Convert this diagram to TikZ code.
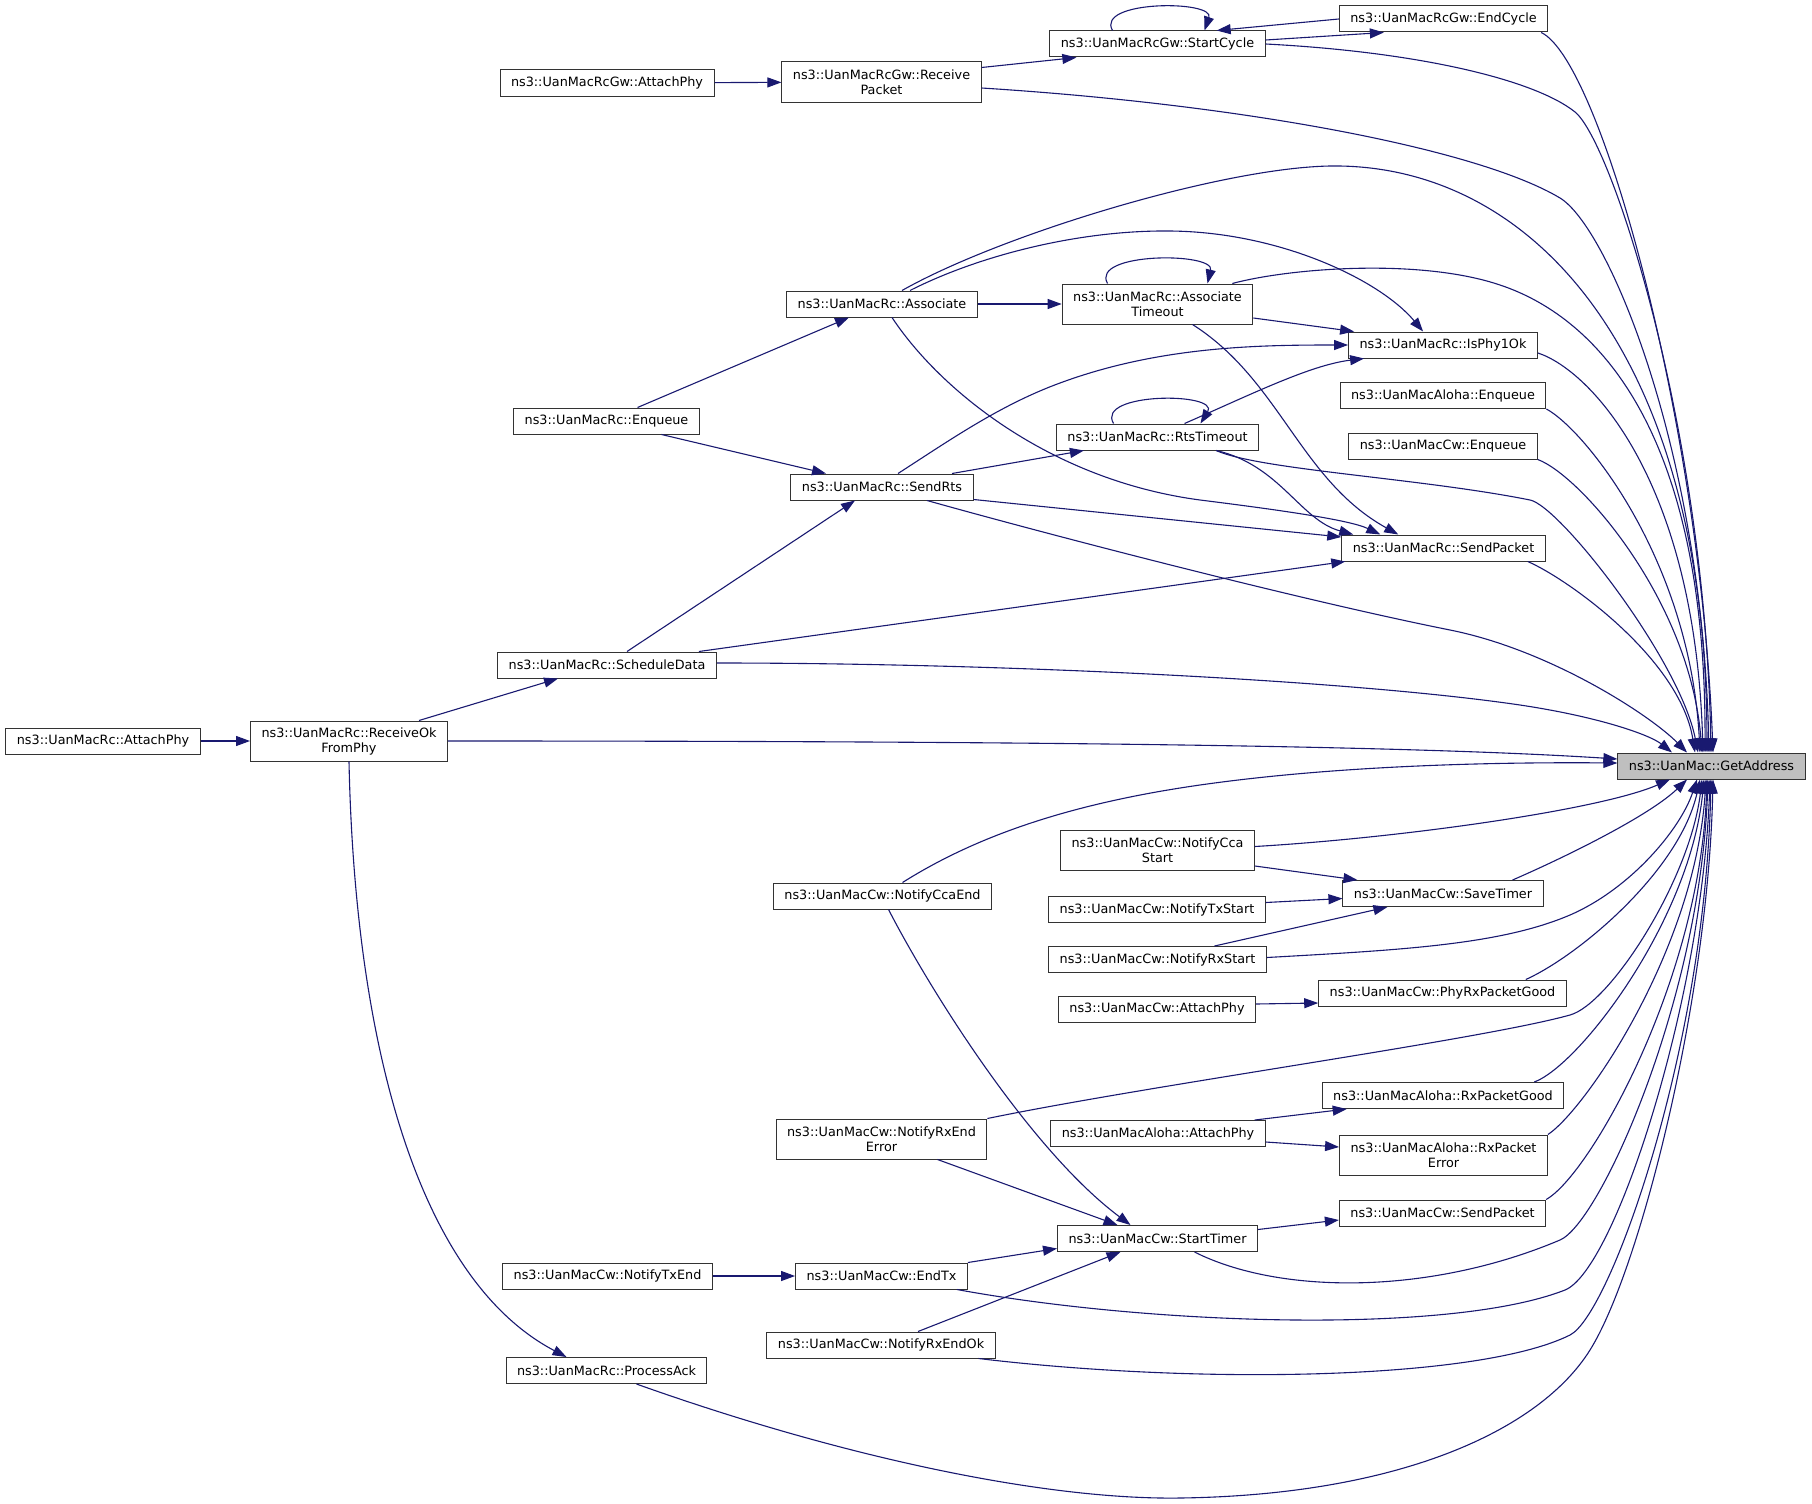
\documentclass[tikz,border=0pt]{standalone}
\usepackage{fontspec}
\setmainfont{DejaVu Sans}
\usetikzlibrary{arrows.meta,calc}
\definecolor{edgeblue}{HTML}{191970}
\definecolor{hilite}{HTML}{BFBFBF}
\begin{document}
\begin{tikzpicture}[x=1pt,y=-1pt,font=\fontsize{12.8}{15}\selectfont,
  fn/.style={draw=black!80,line width=1pt,fill=white,inner xsep=11pt,inner ysep=2pt,minimum height=26pt},
  fnn/.style={fn,align=center,minimum height=40pt},
  call/.style={draw=edgeblue,line width=1.1pt,-{Triangle[length=14pt,width=10pt]}}]
\useasboundingbox (0,0) rectangle (1812,1504);
% functions
\node[fn,fill=hilite] (ga) at (1711.5,766) {ns3::UanMac::GetAddress};
\node[fn] (endcycle) at (1443.5,19) {ns3::UanMacRcGw::EndCycle};
\node[fn] (startcycle) at (1157.5,44) {ns3::UanMacRcGw::StartCycle};
\node[fnn] (recvpkt) at (881.5,82) {ns3::UanMacRcGw::Receive\\Packet};
\node[fn] (gwattach) at (607,83) {ns3::UanMacRcGw::AttachPhy};
\node[fn] (associate) at (882,304) {ns3::UanMacRc::Associate};
\node[fnn] (assoctimeout) at (1157.5,304) {ns3::UanMacRc::Associate\\Timeout};
\node[fn] (isphy) at (1443,345) {ns3::UanMacRc::IsPhy1Ok};
\node[fn] (alohaenq) at (1443,395.5) {ns3::UanMacAloha::Enqueue};
\node[fn] (rtstimeout) at (1157.5,437) {ns3::UanMacRc::RtsTimeout};
\node[fn] (cwenq) at (1443,446) {ns3::UanMacCw::Enqueue};
\node[fn] (rcenq) at (606.5,421) {ns3::UanMacRc::Enqueue};
\node[fn] (sendrts) at (882,487) {ns3::UanMacRc::SendRts};
\node[fn] (rcsendpkt) at (1443.5,548) {ns3::UanMacRc::SendPacket};
\node[fn] (schedule) at (607,665) {ns3::UanMacRc::ScheduleData};
\node[fn] (rcattach) at (103,741) {ns3::UanMacRc::AttachPhy};
\node[fnn] (recvok) at (349,741) {ns3::UanMacRc::ReceiveOk\\FromPhy};
\node[fn] (ccaend) at (882.5,896) {ns3::UanMacCw::NotifyCcaEnd};
\node[fnn] (ccastart) at (1157.5,850.5) {ns3::UanMacCw::NotifyCca\\Start};
\node[fn] (savetimer) at (1443,893.5) {ns3::UanMacCw::SaveTimer};
\node[fn] (txstart) at (1157,909.5) {ns3::UanMacCw::NotifyTxStart};
\node[fn] (rxstart) at (1157.5,959.5) {ns3::UanMacCw::NotifyRxStart};
\node[fn] (phyrxgood) at (1442.5,993) {ns3::UanMacCw::PhyRxPacketGood};
\node[fn] (cwattach) at (1157,1009) {ns3::UanMacCw::AttachPhy};
\node[fn] (alohagood) at (1443,1095.5) {ns3::UanMacAloha::RxPacketGood};
\node[fn] (alohaattach) at (1158,1133.5) {ns3::UanMacAloha::AttachPhy};
\node[fnn] (alohaerr) at (1443.5,1155) {ns3::UanMacAloha::RxPacket\\Error};
\node[fnn] (rxenderr) at (881.5,1139) {ns3::UanMacCw::NotifyRxEnd\\Error};
\node[fn] (cwsendpkt) at (1442.5,1213) {ns3::UanMacCw::SendPacket};
\node[fn] (starttimer) at (1157.5,1238.5) {ns3::UanMacCw::StartTimer};
\node[fn] (endtx) at (881.5,1276) {ns3::UanMacCw::EndTx};
\node[fn] (txend) at (607.5,1276) {ns3::UanMacCw::NotifyTxEnd};
\node[fn] (rxendok) at (881,1345) {ns3::UanMacCw::NotifyRxEndOk};
\node[fn] (processack) at (606.5,1370.5) {ns3::UanMacRc::ProcessAck};
% calls into GetAddress, from above
\draw[call] ($(endcycle.south east)+(-7,0)$) .. controls (1600,60) and (1700,420) .. ($(ga.north)+(1.5,0)$);
\draw[call] (startcycle.east) .. controls (1420,52) and (1535,80) .. (1575,112) .. controls (1612,142) and (1705,430) .. ($(ga.north)+(-0.5,0)$);
\draw[call] ($(recvpkt.east)+(0,6)$) .. controls (1250,105) and (1480,150) .. (1560,198) .. controls (1608,227) and (1702,450) .. ($(ga.north)+(-2.5,0)$);
\draw[call] ($(associate.north)+(20,0)$) .. controls (1000,235) and (1220,168) .. (1330,166) .. controls (1530,163) and (1706,350) .. ($(ga.north)+(-4.5,0)$);
\draw[call] ($(assoctimeout.north east)+(-21,0)$) .. controls (1290,268) and (1420,258) .. (1500,285) .. controls (1590,315) and (1706,420) .. ($(ga.north)+(-6.5,0)$);
\draw[call] ($(isphy.east)+(0,8)$) .. controls (1590,370) and (1695,480) .. ($(ga.north)+(-8.5,0)$);
\draw[call] (alohaenq.south east) .. controls (1585,430) and (1690,560) .. ($(ga.north)+(-11.5,0)$);
\draw[call] (cwenq.south east) .. controls (1580,475) and (1690,600) .. ($(ga.north)+(-9.5,0)$);
\draw[call] ($(rtstimeout.south east)+(-43,0)$) .. controls (1260,470) and (1420,478) .. (1530,500) .. controls (1560,506) and (1680,660) .. ($(ga.north)+(-13.5,0)$);
\draw[call] ($(rcsendpkt.south east)+(-18,0)$) .. controls (1570,580) and (1680,660) .. ($(ga.north)+(-16.5,0)$);
\draw[call] ($(sendrts.south)+(45,0)$) .. controls (1050,535) and (1300,600) .. (1450,630) .. controls (1550,650) and (1650,715) .. ($(ga.north)+(-24.5,0)$);
\draw[call] ($(schedule.east)+(0,-2)$) .. controls (1000,663) and (1350,680) .. (1520,705) .. controls (1600,717) and (1650,735) .. ($(ga.north)+(-39.5,0)$);
% from the left
\draw[call] (recvok.east) .. controls (1000,741) and (1400,745) .. ($(ga.west)+(0,-7)$);
\draw[call] ($(ccaend.north)+(20,0)$) .. controls (970,840) and (1060,805) .. (1200,785) .. controls (1340,765) and (1500,762) .. ($(ga.west)+(0,-3)$);
% from below
\draw[call] ($(ccastart.east)+(0,-4)$) .. controls (1400,838) and (1600,810) .. ($(ga.south)+(-41.5,0)$);
\draw[call] ($(savetimer.north east)+(-31,0)$) .. controls (1570,855) and (1650,815) .. ($(ga.south)+(-24.5,0)$);
\draw[call] ($(rxstart.east)+(0,-2)$) .. controls (1400,950) and (1500,945) .. (1570,915) .. controls (1630,889) and (1680,830) .. ($(ga.south)+(-14.5,0)$);
\draw[call] ($(phyrxgood.north east)+(-41,0)$) .. controls (1580,955) and (1680,870) .. ($(ga.south)+(-11.5,0)$);
\draw[call] (rxenderr.north east) .. controls (1150,1085) and (1480,1040) .. (1570,1015) .. controls (1610,1004) and (1690,880) .. ($(ga.south)+(-9.5,0)$);
\draw[call] ($(alohagood.north east)+(-30,0)$) .. controls (1580,1065) and (1690,920) .. ($(ga.south)+(-7.5,0)$);
\draw[call] (alohaerr.north east) .. controls (1585,1110) and (1695,950) .. ($(ga.south)+(-5.5,0)$);
\draw[call] (cwsendpkt.north east) .. controls (1590,1175) and (1700,980) .. ($(ga.south)+(-4.5,0)$);
\draw[call] ($(starttimer.south)+(37,0)$) .. controls (1280,1295) and (1430,1295) .. (1560,1240) .. controls (1600,1223) and (1700,1000) .. ($(ga.south)+(-3.5,0)$);
\draw[call] ($(endtx.south east)+(-11,0)$) .. controls (1150,1325) and (1450,1335) .. (1565,1290) .. controls (1615,1270) and (1702,1000) .. ($(ga.south)+(-1.5,0)$);
\draw[call] ($(rxendok.south east)+(-17,0)$) .. controls (1200,1385) and (1480,1380) .. (1570,1335) .. controls (1610,1315) and (1705,1050) .. ($(ga.south)+(-0.5,0)$);
\draw[call] ($(processack.south east)+(-71,0)$) .. controls (850,1460) and (1050,1500) .. (1180,1498) .. controls (1400,1495) and (1540,1430) .. (1590,1350) .. controls (1640,1270) and (1708,1000) .. ($(ga.south)+(1.5,0)$);
% the other calls
\draw[call] (gwattach) -- (recvpkt);
\draw[call] ($(recvpkt.north east)+(0,6)$) -- ($(startcycle.south west)+(27,0)$);
\draw[call] ($(startcycle.east)+(0,-4)$) -- ($(endcycle.south west)+(45,0)$);
\draw[call] (endcycle.west) -- ($(startcycle.north east)+(-49,0)$);
\draw[call] ($(startcycle.north)+(-45,0)$) .. controls (1095,0) and (1215,0) .. ($(startcycle.north)+(47,0)$);
\draw[call] ($(rcenq.north)+(31,0)$) -- ($(associate.south)+(-33,0)$);
\draw[call] ($(rcenq.south)+(55,0)$) -- ($(sendrts.north)+(-56,0)$);
\draw[call] (associate) -- (assoctimeout);
\draw[call] ($(associate.north)+(28,0)$) .. controls (980,255) and (1080,230) .. (1170,231) .. controls (1280,232) and (1380,280) .. ($(isphy.north west)+(75,0)$);
\draw[call] ($(associate.south)+(10,0)$) .. controls (940,390) and (1050,480) .. (1200,500) .. controls (1280,510) and (1350,520) .. ($(rcsendpkt.north west)+(39,0)$);
\draw[call] ($(assoctimeout.north)+(-50,0)$) .. controls (1090,252) and (1215,252) .. ($(assoctimeout.north)+(50,0)$);
\draw[call] ($(assoctimeout.east)+(0,14)$) -- ($(isphy.north west)+(6,0)$);
\draw[call] ($(assoctimeout.south)+(35,0)$) .. controls (1280,380) and (1300,480) .. ($(rcsendpkt.north west)+(57,0)$);
\draw[call] ($(rtstimeout.north)+(-44,0)$) .. controls (1095,392) and (1220,392) .. ($(rtstimeout.north)+(43,0)$);
\draw[call] ($(rtstimeout.north)+(27,0)$) .. controls (1250,395) and (1310,365) .. ($(isphy.south west)+(16,0)$);
\draw[call] ($(rtstimeout.south east)+(-43,0)$) .. controls (1280,465) and (1300,520) .. ($(rcsendpkt.north west)+(12,0)$);
\draw[call] ($(sendrts.north)+(70,0)$) -- ($(rtstimeout.south west)+(28,0)$);
\draw[call] ($(sendrts.north)+(16,0)$) .. controls (950,440) and (1000,405) .. (1060,383) .. controls (1160,346) and (1260,345) .. (isphy.west);
\draw[call] ($(sendrts.south east)+(0,-1)$) -- ($(rcsendpkt.west)+(0,-11)$);
\draw[call] ($(schedule.north)+(20,0)$) -- ($(sendrts.south)+(-27,0)$);
\draw[call] ($(schedule.north east)+(-18,0)$) -- ($(rcsendpkt.south west)+(4,0)$);
\draw[call] (rcattach) -- (recvok);
\draw[call] ($(recvok.north)+(70,0)$) -- ($(schedule.south)+(-49,0)$);
\draw[call] (recvok.south) .. controls (355,1050) and (420,1280) .. ($(processack.north)+(-40,0)$);
\draw[call] ($(ccaend.south)+(6,0)$) .. controls (930,990) and (1030,1150) .. ($(starttimer.north)+(-27,0)$);
\draw[call] ($(rxenderr.south)+(56,0)$) -- ($(starttimer.north)+(-40,0)$);
\draw[call] (endtx.north east) -- ($(starttimer.west)+(0,10)$);
\draw[call] ($(rxendok.north)+(37,0)$) -- ($(starttimer.south)+(-37,0)$);
\draw[call] (txend) -- (endtx);
\draw[call] ($(starttimer.east)+(0,-9)$) -- ($(cwsendpkt.west)+(0,7)$);
\draw[call] ($(cwattach.east)+(0,-5)$) -- ($(phyrxgood.west)+(0,10)$);
\draw[call] ($(alohaattach.north east)+(-11,0)$) -- ($(alohagood.south west)+(25,0)$);
\draw[call] ($(alohaattach.east)+(0,8.5)$) -- ($(alohaerr.west)+(0,-8)$);
\draw[call] ($(ccastart.south east)+(0,-5)$) -- ($(savetimer.north west)+(15,0)$);
\draw[call] ($(txstart.east)+(0,-7)$) -- ($(savetimer.west)+(0,5)$);
\draw[call] ($(rxstart.north)+(57,0)$) -- ($(savetimer.south west)+(45,0)$);
\end{tikzpicture}
\end{document}
